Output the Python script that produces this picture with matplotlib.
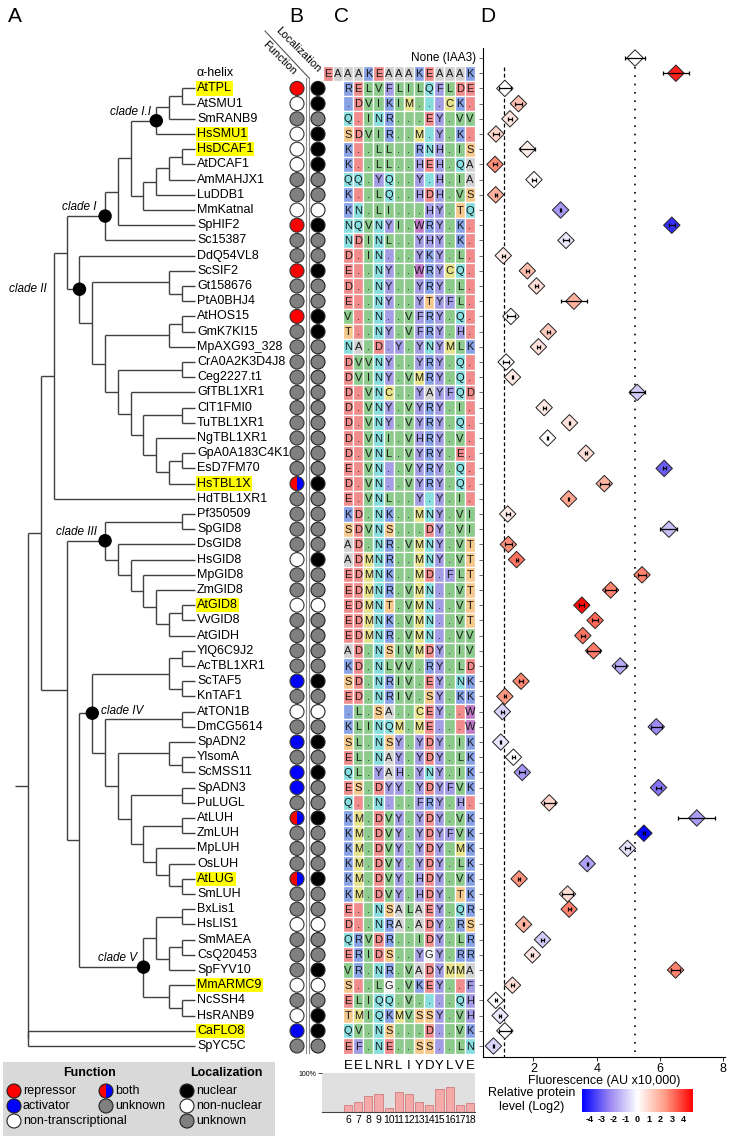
import numpy as np
import matplotlib
import matplotlib.pyplot as plt
from matplotlib.patches import Rectangle, Circle, Wedge
from matplotlib.colors import LinearSegmentedColormap, TwoSlopeNorm
from matplotlib.colorbar import ColorbarBase

plt.rcParams['font.family'] = ['Liberation Sans', 'DejaVu Sans']

# ---- data ----
proteins = ["AtTPL", "AtSMU1", "SmRANB9", "HsSMU1", "HsDCAF1", "AtDCAF1", "AmMAHJX1", "LuDDB1",
            "MmKatnal", "SpHIF2", "Sc15387", "DdQ54VL8", "ScSIF2", "Gt158676", "PtA0BHJ4", "AtHOS15",
            "GmK7KI15", "MpAXG93_328", "CrA0A2K3D4J8", "Ceg2227.t1", "GfTBL1XR1", "ClT1FMI0",
            "TuTBL1XR1", "NgTBL1XR1", "GpA0A183C4K1", "EsD7FM70", "HsTBL1X", "HdTBL1XR1",
            "Pf350509", "SpGID8", "DsGID8", "HsGID8", "MpGID8", "ZmGID8", "AtGID8", "VvGID8",
            "AtGIDH", "YlQ6C9J2", "AcTBL1XR1", "ScTAF5", "KnTAF1", "AtTON1B", "DmCG5614", "SpADN2",
            "YlsomA", "ScMSS11", "SpADN3", "PuLUGL", "AtLUH", "ZmLUH", "MpLUH", "OsLUH", "AtLUG",
            "SmLUH", "BxLis1", "HsLIS1", "SmMAEA", "CsQ20453", "SpFYV10", "MmARMC9", "NcSSH4",
            "HsRANB9", "CaFLO8", "SpYC5C"]

highlighted = ["AtTPL", "HsSMU1", "HsDCAF1", "HsTBL1X", "AtGID8", "AtLUG", "MmARMC9", "CaFLO8"]

# r=repressor a=activator n=non-transcriptional b=both u=unknown
function = list("rnunnnuunr" "uuruuruuuu" "uuuuuubuuu" "unuunuuuua"
                "unuauaaubu" "uubuunuuun" "unau")
# N=nuclear X=non-nuclear U=unknown
localization = list("NNUNNNUUXN" "UUNUUNNUUU" "UUUUUUNUUU" "UNUUXUUUUN"
                    "UXUNUNUUNU" "UUNUUXUUNX" "UNNU")

sequences = ["RELVFLILQFLDE", ".DVIKIM...CK.", "Q.INR...EY.VV", "SDVIR..M.Y.K.", "K..LL..RNH.IS",
             "K..LL..HEH.QA", "QQ.YQ..Y.H.IA", "K..LQ..HDH.VS", "KN.LI...HY.TQ", "NQVNYI.WRY.K.",
             "NDINL..YHY.K.", "D.IN...YKY.L.", "E..NY..WRYCQ.", "D..NY..YRY.L.", "E..NY..YTYFL.",
             "V..N..VFRY.Q.", "T..NY.VFRY.H.", "NA.D.Y.YNYMLK", "DVVNY..YRY.Q.", "DVINY.VMRY.Q.",
             "D.VNC..YAYFQD", "D.VNY.VYRY.I.", "D.VNY.VYRY.Q.", "D.VNI.VHRY.V.", "D.VNL.VYRY.E.",
             "E.VN..VYRY.Q.", "D.VN..VYRY.Q.", "E.VNL..Y.Y.I.", "KD.NK..MNY.VI", "SDVNS...DY.VI",
             "AD.NR.VMNY.VT", "ADMNR..MNY.VT", "EDMNK..MD.FLT", "EDMNR.VMN..VT", "EDMNT.VMN..VT",
             "EDMNK.VMN..VT", "EDMNR.VMN..VV", "AD.NSIVMDY.IV", "KD.NLVV.RY.LD", "SD.NRIV.EY.NK",
             "ED.NRIV.SY.KK", ".L.SA..CEY..W", "KLINQM.ME...W", "SL.NSY.YDY.IK", "EL.NAY.YDY.LK",
             "QL.YAH.YNY.IK", "ES.DYY.YDYFVK", "Q..N...FRY.H.", "KM.DVY.YDY.VK", "KM.DVY.YDYFVK",
             "KM.DVY.YDY.MK", "KM.DVY.YDY.LK", "KM.DVY.HDY.VK", "KM.DVY.HDY.TK", "E..NSALAEY.QR",
             "D..NRA.ADY.RS", "QRVDR..IDY.LR", "ERIDS..YGY.RR", "VR.NR.VADYMMA", "S..LG.VKEY..F",
             "ELIQQ.V....QH", "TMIQKMVSSY.VH", "QV.NS...D..VK", "EF.NE..SS..LN"]
helix_seq = "EAAAKEAAAKEAAAK"

consensus = list("EELNRLIYDYLVE")
positions = list(range(6, 19))
conservation = [0.17, 0.25, 0.41, 0.47, 0.10, 0.51, 0.45, 0.25, 0.18, 0.58, 0.64, 0.17, 0.23]

# panel D rows: None (IAA3), alpha-helix, then proteins
fluor = [5.21, 6.50, 1.10, 1.53, 1.26, 0.82, 1.81, 0.79, 2.02, 0.81, 2.86, 6.37, 3.03, 1.05, 1.81,
         2.10, 3.28, 1.29, 2.47, 2.16, 1.14, 1.34, 5.28, 2.34, 3.14, 2.45, 3.66, 6.13, 4.24, 3.11,
         1.19, 6.28, 1.21, 1.47, 5.43, 4.44, 3.53, 3.95, 3.56, 3.90, 4.74, 1.61, 1.10, 1.02, 5.88,
         0.97, 1.37, 1.65, 5.95, 2.50, 7.16, 5.49, 4.97, 3.70, 1.55, 3.08, 3.13, 1.69, 2.29, 1.97,
         6.49, 1.34, 0.81, 0.95, 1.10, 0.74]
fluor_err = [0.33, 0.40, 0.20, 0.10, 0.05, 0.08, 0.24, 0.05, 0.06, 0.03, 0.02, 0.10, 0.10, 0.05, 0.05,
             0.06, 0.40, 0.12, 0.05, 0.04, 0.10, 0.02, 0.23, 0.05, 0.02, 0.02, 0.04, 0.05, 0.14, 0.02,
             0.06, 0.27, 0.10, 0.03, 0.12, 0.18, 0.08, 0.10, 0.06, 0.20, 0.17, 0.06, 0.04, 0.05, 0.17,
             0.02, 0.04, 0.10, 0.07, 0.18, 0.59, 0.02, 0.07, 0.02, 0.04, 0.18, 0.05, 0.02, 0.06, 0.03,
             0.15, 0.06, 0.03, 0.04, 0.20, 0.02]
protein_log2 = [0.0, 4.3, 0.0, 1.5, 0.6, 1.0, 0.4, 2.6, 0.1, 1.9, -2.0, -3.8, -0.4, 0.5, 1.6,
                0.8, 1.9, 0.0, 1.3, 0.7, 0.1, 0.5, -1.0, 0.5, 0.7, 0.0, 0.8, -3.0, 1.8, 2.1,
                0.5, -1.2, 2.6, 3.0, 2.8, 2.8, 4.6, 3.2, 3.0, 2.9, -1.6, 2.7, 2.4, -0.8, -2.2,
                -0.5, 0.0, -2.0, -2.6, 1.0, -1.9, -4.5, -0.6, -1.8, 2.5, 0.8, 2.8, 1.8, -1.0, 0.6,
                2.8, 0.8, 0.0, -0.4, 0.0, -0.8]
neg_ctrl = 1.08

# tree: (level, children[, clade name]); leaves sit at level 15
tree = (2, [
    (3, [
        (4, [
            (5, [
                (8, [
                    (9, [
                        (10, [
                            (12, [(13, [(14, ["AtTPL", "AtSMU1"]), "SmRANB9"]), "HsSMU1"], "clade I.I"),
                            (11, [(12, [(13, [(14, ["HsDCAF1", "AtDCAF1"]), "AmMAHJX1"]), "LuDDB1"]), "MmKatnal"]),
                        ]),
                        "SpHIF2"]),
                    "Sc15387"], "clade I"),
                (6, [
                    "DdQ54VL8",
                    (7, [
                        (13, ["ScSIF2", (14, ["Gt158676", "PtA0BHJ4"])]),
                        (8, [
                            (13, [(14, ["AtHOS15", "GmK7KI15"]), "MpAXG93_328"]),
                            (9, [
                                (14, ["CrA0A2K3D4J8", "Ceg2227.t1"]),
                                (10, [
                                    "GfTBL1XR1",
                                    (11, [
                                        (14, ["ClT1FMI0", "TuTBL1XR1"]),
                                        (12, ["NgTBL1XR1",
                                              (13, [(14, ["GpA0A183C4K1", "EsD7FM70"]), "HsTBL1X"])]),
                                    ]),
                                ]),
                            ]),
                        ]),
                    ]),
                ], "clade II"),
            ]),
            "HdTBL1XR1"]),
        (5, [
            (8, [
                (14, ["Pf350509", "SpGID8"]),
                (9, ["DsGID8",
                     (10, ["HsGID8",
                           (11, ["MpGID8",
                                 (12, ["ZmGID8",
                                       (13, [(14, ["AtGID8", "VvGID8"]), "AtGIDH"])])])])]),
            ], "clade III"),
            (6, [
                (7, [
                    (13, [(14, ["YlQ6C9J2", "AcTBL1XR1"]), (14, ["ScTAF5", "KnTAF1"])]),
                    (8, [
                        (14, ["AtTON1B", "DmCG5614"]),
                        (9, [
                            (13, ["SpADN2", (14, ["YlsomA", "ScMSS11"])]),
                            (10, [
                                (14, ["SpADN3", "PuLUGL"]),
                                (11, [
                                    (14, ["AtLUH", "ZmLUH"]),
                                    (12, ["MpLUH", (13, ["OsLUH", (14, ["AtLUG", "SmLUH"])])]),
                                ]),
                            ]),
                        ]),
                    ]),
                ], "clade IV"),
                (11, [
                    (12, [(14, ["BxLis1", "HsLIS1"]), (13, [(14, ["SmMAEA", "CsQ20453"]), "SpFYV10"])]),
                    (13, ["MmARMC9", (14, ["NcSSH4", "HsRANB9"])]),
                ], "clade V"),
            ]),
        ]),
    ]),
    (2, ["CaFLO8", "SpYC5C"]),
])

# ---- layout (pixels) ----
W, H = 729, 1139
row0_y, row_h = 58.0, 15.2
def row_y(r):
    return row0_y + r * row_h

def level_x(lv):
    return 15.5 + (lv - 1) * 12.8

clade_label_pos = {"clade I.I": (-5, -9, 'right'), "clade I": (-9, -9, 'right'),
                   "clade II": (-33, 0, 'right'), "clade III": (-8, -9, 'right'),
                   "clade IV": (9, -2, 'left'), "clade V": (-6, -9, 'right')}

res_colors = {"D": "#f08c8c", "E": "#f08c8c", "K": "#88a2e6", "R": "#88a2e6",
              "L": "#8ccb8c", "V": "#8ccb8c", "I": "#8ccb8c",
              "F": "#a39ee4", "Y": "#a39ee4", "H": "#a39ee4", "W": "#c07ac8",
              "N": "#88dede", "Q": "#88dede", "S": "#f5c98c", "T": "#f5c98c",
              "M": "#e6e28a", "C": "#e6e28a", "A": "#d2d2d2", "G": "#f2f2f2"}

func_colors = {"r": "#ff0000", "a": "#0000ff", "n": "#ffffff", "u": "#808080"}
loc_colors = {"N": "#000000", "X": "#ffffff", "U": "#808080"}

fig = plt.figure(figsize=(W / 100, H / 100), dpi=100)
ax = fig.add_axes([0, 0, 1, 1])
ax.set_xlim(0, W)
ax.set_ylim(H, 0)
ax.axis('off')

leaf_y = {p: row_y(i + 2) for i, p in enumerate(proteins)}
line_kw = dict(color='#404040', lw=1.0, solid_capstyle='butt')

def draw_tree(node):
    if isinstance(node, str):
        return level_x(15), leaf_y[node]
    kids = [draw_tree(k) for k in node[1]]
    x = level_x(node[0])
    ys = [k[1] for k in kids]
    y = (min(ys) + max(ys)) / 2
    ax.plot([x, x], [min(ys), max(ys)], **line_kw)
    for cx, cy in kids:
        ax.plot([x, cx], [cy, cy], **line_kw)
    if len(node) > 2:
        ax.add_patch(Circle((x, y), 6, color='black', zorder=5))
        dx, dy, ha = clade_label_pos[node[2]]
        ax.text(x + dx, y + dy, node[2], ha=ha, va='center', fontsize=8.5, style='italic')
    return x, y

rx, ry = draw_tree(tree)
ax.plot([level_x(1), rx], [ry, ry], **line_kw)

ax.text(197, row_y(1), "α-helix", ha='left', va='center', fontsize=9)
for p in proteins:
    bbox = dict(facecolor='#ffff00', edgecolor='none', pad=0.8) if p in highlighted else None
    ax.text(197, leaf_y[p], p, ha='left', va='center', fontsize=9, bbox=bbox)

# ---- panel B ----
fx, lx, rad = 297, 318, 7
for i, p in enumerate(proteins):
    y = leaf_y[p]
    f = function[i]
    if f == 'b':
        ax.add_patch(Wedge((fx, y), rad, 90, 270, facecolor='#ff0000', edgecolor='none'))
        ax.add_patch(Wedge((fx, y), rad, 270, 90, facecolor='#0000ff', edgecolor='none'))
        ax.add_patch(Circle((fx, y), rad, facecolor='none', edgecolor='#333333', lw=0.8))
    else:
        ax.add_patch(Circle((fx, y), rad, facecolor=func_colors[f], edgecolor='#333333', lw=0.8))
    ax.add_patch(Circle((lx, y), rad, facecolor=loc_colors[localization[i]], edgecolor='#222222', lw=0.8))

ax.plot([306.5, 306.5], [78, 1053], color='#8c8c8c', lw=0.8)
ax.plot([309, 309], [78, 1053], color='#8c8c8c', lw=0.8)
ax.plot([265, 309], [31, 78], color='#555555', lw=0.8)
ax.text(298, 50, "Localization", rotation=-45, ha='center', va='center', fontsize=8, rotation_mode='anchor')
ax.text(279, 58, "Function", rotation=-45, ha='center', va='center', fontsize=8, rotation_mode='anchor')

# ---- panel C ----
col_x0, col_w = 343.0, 10.15
ref = sequences[0]

def cell(j, y, ch, res):
    ax.add_patch(Rectangle((col_x0 + j * col_w, y - row_h / 2), col_w, row_h,
                           facecolor=res_colors[res], edgecolor='white', lw=0.9))
    ax.text(col_x0 + (j + 0.5) * col_w, y + 0.5, ch, ha='center', va='center', fontsize=8, color='#1a1a1a')

for j, ch in enumerate(helix_seq):
    cell(j - 2, row_y(1), ch, ch)
for i, s in enumerate(sequences):
    y = row_y(i + 2)
    for j, ch in enumerate(s):
        cell(j, y, ch, ref[j] if ch == '.' else ch)

ax.text(476, row_y(0), "None (IAA3)", ha='right', va='center', fontsize=8.5)

for j, ch in enumerate(consensus):
    ax.text(col_x0 + (j + 0.5) * col_w, 1066, ch, ha='center', va='center', fontsize=9.5)

axl = fig.add_axes([322 / W, 1 - 1112 / H, 153 / W, 39 / H])
axl.set_facecolor('#e0e0e0')
axl.bar(positions, conservation, width=0.8, color='#f5aaaa', edgecolor='#d27a7a', lw=0.6)
axl.set_xlim(3.43, 18.5)
axl.set_ylim(0, 1)
for s in axl.spines.values():
    s.set_visible(False)
axl.spines['bottom'].set_visible(True)
axl.spines['bottom'].set_color('#444444')
axl.set_yticks([1])
axl.set_yticklabels(["100%"], fontsize=5)
axl.tick_params(axis='y', length=3, width=0.5, pad=1)
axl.set_xticks(positions)
axl.set_xticklabels([str(p) for p in positions], fontsize=7.5)
axl.tick_params(axis='x', length=0, pad=2)
for t in axl.get_xticklabels():
    t.set_fontstretch('condensed')

# ---- panel D ----
cmap = LinearSegmentedColormap.from_list('prot', ['#0000ff', '#9a86f2', '#ffffff', '#ff9c84', '#ff0000'])
norm = TwoSlopeNorm(vcenter=0, vmin=-4.6, vmax=4.8)
rows = np.arange(len(fluor))

axd = fig.add_axes([483 / W, 1 - 1057 / H, 242 / W, (1057 - 48) / H])
axd.plot([neg_ctrl, neg_ctrl], [0.6, 66], ls=(0, (3, 2)), color='black', lw=0.9)
axd.plot([fluor[0], fluor[0]], [0.6, 66], ls=(0, (1, 4)), color='black', lw=1.2)
axd.scatter(fluor, rows, marker='D', s=70, c=protein_log2, cmap=cmap, norm=norm,
            edgecolors='#222222', linewidths=0.7, zorder=3)
axd.errorbar(fluor, rows, xerr=fluor_err, fmt='none', ecolor='black', elinewidth=0.9,
             capsize=1.5, capthick=0.9, zorder=4)
axd.set_xlim(0.41, 8.05)
axd.set_ylim((1057 - row0_y) / row_h, (48 - row0_y) / row_h)
axd.set_yticks(rows)
axd.set_yticklabels([])
axd.tick_params(axis='y', length=3, width=0.6, color='#555555')
axd.set_xticks([2, 4, 6, 8])
axd.tick_params(axis='x', labelsize=9, length=3, width=0.6, pad=1)
axd.spines['top'].set_visible(False)
axd.spines['right'].set_visible(False)
axd.set_xlabel("Fluorescence (AU x10,000)", fontsize=9, labelpad=0)

cax = fig.add_axes([582 / W, 1 - 1112 / H, 111 / W, 23 / H])
cb = ColorbarBase(cax, cmap=cmap, norm=norm, orientation='horizontal')
cb.outline.set_visible(False)
cb.set_ticks(list(range(-4, 5)))
cb.set_ticklabels([str(t) for t in range(-4, 5)])
cb.ax.tick_params(labelsize=6.5, length=0, pad=2)
for t in cb.ax.get_xticklabels():
    t.set_fontweight('bold')
ax.text(532, 1100, "Relative protein\nlevel (Log2)", ha='center', va='center', fontsize=9)

# ---- legend ----
ax.add_patch(Rectangle((3, 1062), 272, 74, facecolor='#d9d9d9', edgecolor='none'))
ax.text(90, 1073, "Function", ha='center', va='center', fontsize=9, fontweight='bold')
ax.text(226, 1073, "Localization", ha='center', va='center', fontsize=9, fontweight='bold')
leg_items = [(14, 1091, func_colors['r'], "repressor"), (14, 1106, func_colors['a'], "activator"),
             (14, 1121, func_colors['n'], "non-transcriptional"), (106, 1106, func_colors['u'], "unknown"),
             (187, 1091, loc_colors['N'], "nuclear"), (187, 1106, loc_colors['X'], "non-nuclear"),
             (187, 1121, loc_colors['U'], "unknown")]
for x, y, c, lab in leg_items:
    ax.add_patch(Circle((x, y), 7, facecolor=c, edgecolor='#222222', lw=0.8))
    ax.text(x + 9, y, lab, ha='left', va='center', fontsize=9)
ax.add_patch(Wedge((106, 1091), 7, 90, 270, facecolor='#ff0000', edgecolor='none'))
ax.add_patch(Wedge((106, 1091), 7, 270, 90, facecolor='#0000ff', edgecolor='none'))
ax.add_patch(Circle((106, 1091), 7, facecolor='none', edgecolor='#222222', lw=0.8))
ax.text(115, 1091, "both", ha='left', va='center', fontsize=9)

for lab, x in [("A", 8), ("B", 289), ("C", 334), ("D", 480)]:
    ax.text(x, 16, lab, ha='left', va='center', fontsize=15)

fig.savefig("out.png", dpi=100)
